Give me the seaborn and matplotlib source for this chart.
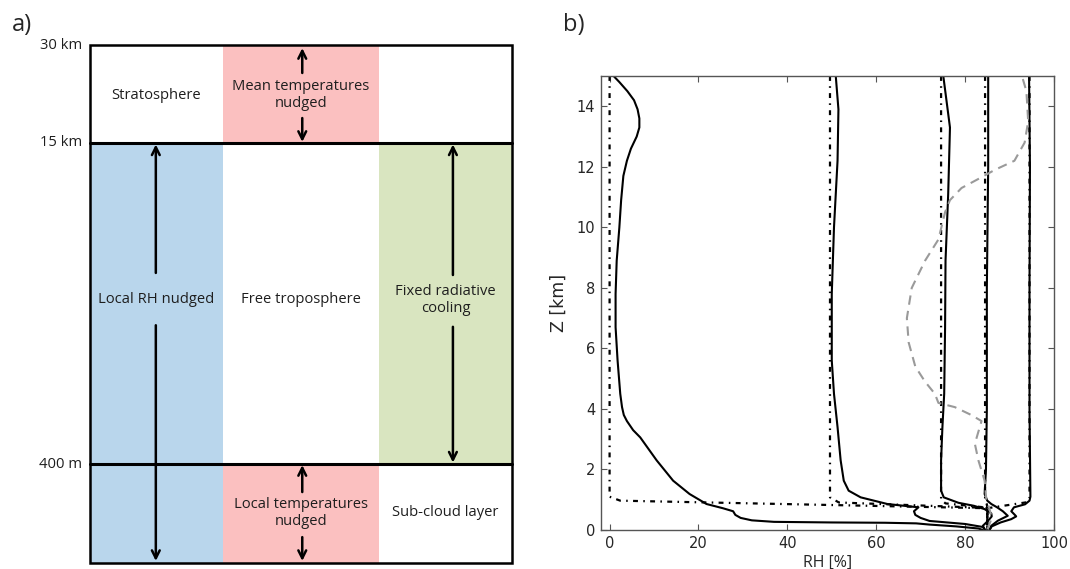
import matplotlib
matplotlib.use("Agg")
import matplotlib.pyplot as plt
from matplotlib.patches import Rectangle
import seaborn as sns
import pandas as pd

# ---------------- data: panel b (RH profiles) ----------------
z_0 = [15, 14.8, 14.5, 14.2, 13.9, 13.6, 13.3, 13.0, 12.6, 12.2, 11.7, 10.9, 10.0, 8.9, 7.8,
       6.7, 5.6, 4.5, 4.06, 3.8, 3.6, 3.3, 3.06, 2.3, 1.63, 1.19, 0.86, 0.72, 0.62, 0.5, 0.4,
       0.32, 0.27, 0.25, 0.24, 0.22, 0.18, 0.12, 0.05, 0]
rh_0 = [0.9, 2.2, 4.0, 5.5, 6.3, 6.7, 6.7, 6.1, 4.8, 3.9, 3.1, 2.6, 2.2, 1.6, 1.35,
        1.35, 1.8, 2.4, 2.8, 3.2, 3.9, 5.3, 6.9, 10.6, 14.3, 18, 21.8, 25.5, 27.8, 28.3, 29.5,
        32, 37, 50, 62, 69, 72, 78, 83, 84]
z_50 = [15, 13.9, 12.2, 10, 7.8, 5.6, 4.5, 3.4, 2.3, 1.63, 1.3, 1.08, 0.86, 0.75, 0.62, 0.5,
        0.4, 0.3, 0.2, 0.1, 0]
rh_50 = [50.9, 51.5, 51.3, 50.5, 50, 50, 50.5, 51.3, 52, 52.7, 53.8, 56.5, 62.5, 69.5, 68.5,
         68.8, 70, 72, 80, 84, 84.5]
z_75 = [15, 13.3, 11.1, 8.9, 6.7, 4.5, 3.4, 2.3, 1.3, 1.08, 0.9, 0.8, 0.69, 0.55, 0.45, 0.31,
        0.14, 0]
rh_75 = [75.1, 76.6, 76.2, 75.6, 75.5, 75.3, 74.9, 74.6, 74.6, 75.2, 78.5, 82, 84.4, 85.9,
         86, 85.2, 84, 84.5]
z_85 = [15, 12, 8, 4, 2, 1.19, 0.97, 0.86, 0.75, 0.62, 0.47, 0.31, 0.14, 0]
rh_85 = [85.2, 85.2, 84.9, 84.9, 84.7, 84.4, 85, 85.9, 87.2, 88.5, 89.6, 87.4, 85.9, 85.5]
z_95 = [15, 12, 8, 4, 1.1, 0.97, 0.85, 0.75, 0.62, 0.5, 0.45, 0.36, 0.25, 0.12, 0]
rh_95 = [94.4, 94.6, 94.5, 94.5, 94.7, 94.5, 93.5, 91, 90.4, 91.2, 91.5, 90.4, 88, 86, 85.5]

# prescribed (target) profiles, dash-dot
target_rh = [0, 49.6, 74.6, 84.5, 94.5]
target_z_top = [15, 15, 15, 15, 15]
target_z_knee = [1.1, 1.08, 1.0, 0.95, 1.05]
target_rh_bend = [2.4, 51.6, 75.6, 84.9, 94.0]
target_z_bend = [0.97, 0.91, 0.88, 0.85, 0.92]
target_z_bl = [0.72, 0.73, 0.74, 0.72, 0.72]
target_rh_bl = [85, 85, 85, 85, 85]

# gray dashed profile
z_d = [14.9, 14.5, 13.5, 12.8, 12.2, 11.9, 11.6, 11.3, 10.9, 10.5, 9.6, 8.9, 8.0, 7.0, 6.2,
       5.4, 4.9, 4.5, 4.2, 4.06, 3.8, 3.6, 3.4, 2.85, 2.3, 1.63, 0.97, 0.7, 0.4, 0.2, 0]
rh_d = [93, 93.8, 94.2, 93.4, 91.1, 86.7, 83, 79.2, 76.6, 75.5, 74, 71, 68, 66.9, 67.3,
        68.8, 71, 73.2, 74, 77.7, 81.4, 83.7, 83.3, 82.2, 83, 84.4, 84.8, 85.5, 86, 85.5, 85]

x_ticks = [0, 20, 40, 60, 80, 100]
y_ticks = [0, 2, 4, 6, 8, 10, 12, 14]

# ---------------- data: panel a (schematic) ----------------
level_labels = ["30 km", "15 km", "400 m"]
column_colors = ["#b9d6ec", "#fbc0c0", "#d9e5c0"]
strat_labels = ["Stratosphere", "Mean temperatures\nnudged", ""]
trop_labels = ["Local RH nudged", "Free troposphere", "Fixed radiative\ncooling"]
subcloud_labels = ["", "Local temperatures\nnudged", "Sub-cloud layer"]

# ---------------- figure ----------------
sns.set_style("ticks")
plt.rcParams["font.family"] = ["DejaVu Sans"]
fig = plt.figure(figsize=(10.7, 5.69), dpi=100)

# ---- panel a ----
axa = fig.add_axes([0.0841, 0.0105, 0.3944, 0.9104])
axa.set_xlim(0, 1)
axa.set_ylim(0, 1)
axa.axis("off")
col_edges = [0, 0.315, 0.685, 1.0]
lev = [1.0, 0.811, 0.191, 0.0]
sf = dict(family=["Open Sans", "DejaVu Sans"], fontsize=10.6, color="#1e1e1e")

axa.add_patch(Rectangle((col_edges[0], 0), col_edges[1] - col_edges[0], lev[1],
                        color=column_colors[0], lw=0, zorder=0))
axa.add_patch(Rectangle((col_edges[1], lev[1]), col_edges[2] - col_edges[1], lev[0] - lev[1],
                        color=column_colors[1], lw=0, zorder=0))
axa.add_patch(Rectangle((col_edges[1], 0), col_edges[2] - col_edges[1], lev[2],
                        color=column_colors[1], lw=0, zorder=0))
axa.add_patch(Rectangle((col_edges[2], lev[2]), col_edges[3] - col_edges[2], lev[1] - lev[2],
                        color=column_colors[2], lw=0, zorder=0))
axa.add_patch(Rectangle((0, 0), 1, 1, fill=False, ec="black", lw=1.8, zorder=3, clip_on=False))
axa.plot([0, 1], [lev[1], lev[1]], color="black", lw=2.2, zorder=3, clip_on=False)
axa.plot([0, 1], [lev[2], lev[2]], color="black", lw=2.2, zorder=3, clip_on=False)

for lab, y in zip(level_labels, lev[:3]):
    axa.text(-0.019, y, lab, ha="right", va="center", **sf)

xc = [(col_edges[i] + col_edges[i + 1]) / 2 for i in range(3)]
y_strat, y_trop, y_sub = 0.903, 0.508, 0.097
for i in range(3):
    if strat_labels[i]:
        axa.text(xc[i], y_strat, strat_labels[i], ha="center", va="center",
                 linespacing=1.2, **sf)
    if trop_labels[i]:
        axa.text(xc[i], y_trop, trop_labels[i], ha="center", va="center",
                 linespacing=1.2, **sf)
    if subcloud_labels[i]:
        axa.text(xc[i], y_sub, subcloud_labels[i], ha="center", va="center",
                 linespacing=1.2, **sf)

def arrow(x, y0, y1):
    axa.annotate("", xy=(x, y1), xytext=(x, y0),
                 arrowprops=dict(arrowstyle="->", lw=1.8, color="black",
                                 mutation_scale=14, shrinkA=0, shrinkB=0), zorder=4)

xa = [0.156, 0.503, 0.860]
arrow(xa[0], 0.560, 0.808)
arrow(xa[0], 0.459, 0.004)
arrow(xa[1], 0.946, 0.994)
arrow(xa[1], 0.859, 0.813)
arrow(xa[1], 0.137, 0.189)
arrow(xa[1], 0.050, 0.004)
arrow(xa[2], 0.556, 0.808)
arrow(xa[2], 0.456, 0.194)

fig.text(12 / 1070, 1 - 25 / 569, "a)", fontsize=17, va="center", ha="left",
         family=["Open Sans", "DejaVu Sans"])
fig.text(563 / 1070, 1 - 25 / 569, "b)", fontsize=17, va="center", ha="left",
         family=["Open Sans", "DejaVu Sans"])

# ---- panel b ----
axb = fig.add_axes([0.5614, 0.0685, 0.4236, 0.7979])
solid_profiles = [(rh_0, z_0), (rh_50, z_50), (rh_75, z_75), (rh_85, z_85), (rh_95, z_95)]
dashdot = (0, (2.2, 2.4, 0.7, 2.4))
for t, zt, zk, rbd, zbd, zb, rb in zip(target_rh, target_z_top, target_z_knee, target_rh_bend,
                                       target_z_bend, target_z_bl, target_rh_bl):
    df = pd.DataFrame({"rh": [t, t, rbd, rb, rb], "z": [zt, zk, zbd, zb, 0]})
    sns.lineplot(data=df, x="rh", y="z", sort=False, estimator=None, color="black",
                 lw=1.6, linestyle=dashdot, ax=axb)
for rh, z in solid_profiles:
    df = pd.DataFrame({"rh": rh, "z": z})
    sns.lineplot(data=df, x="rh", y="z", sort=False, estimator=None, color="black",
                 lw=1.5, ax=axb)
dfd = pd.DataFrame({"rh": rh_d, "z": z_d})
sns.lineplot(data=dfd, x="rh", y="z", sort=False, estimator=None, color="#9a9a9a",
             lw=1.5, linestyle=(0, (4.5, 3)), ax=axb)

axb.set_xlim(-2, 100)
axb.set_ylim(0, 15)
axb.set_xticks(x_ticks)
axb.set_yticks(y_ticks)
axb.tick_params(direction="in", top=True, right=True, length=4, width=0.8,
                labelsize=10.5, color="#555555", pad=4)
for lbl in axb.get_xticklabels() + axb.get_yticklabels():
    lbl.set_family("DejaVu Sans")
for s in axb.spines.values():
    s.set_color("#555555")
    s.set_linewidth(1.0)
axb.set_xlabel("RH [%]", fontsize=11.5, labelpad=3, family=["Open Sans", "DejaVu Sans"])
axb.set_ylabel("Z [km]", fontsize=12.5, labelpad=6, family="DejaVu Sans")

fig.savefig("out.png", dpi=100)
